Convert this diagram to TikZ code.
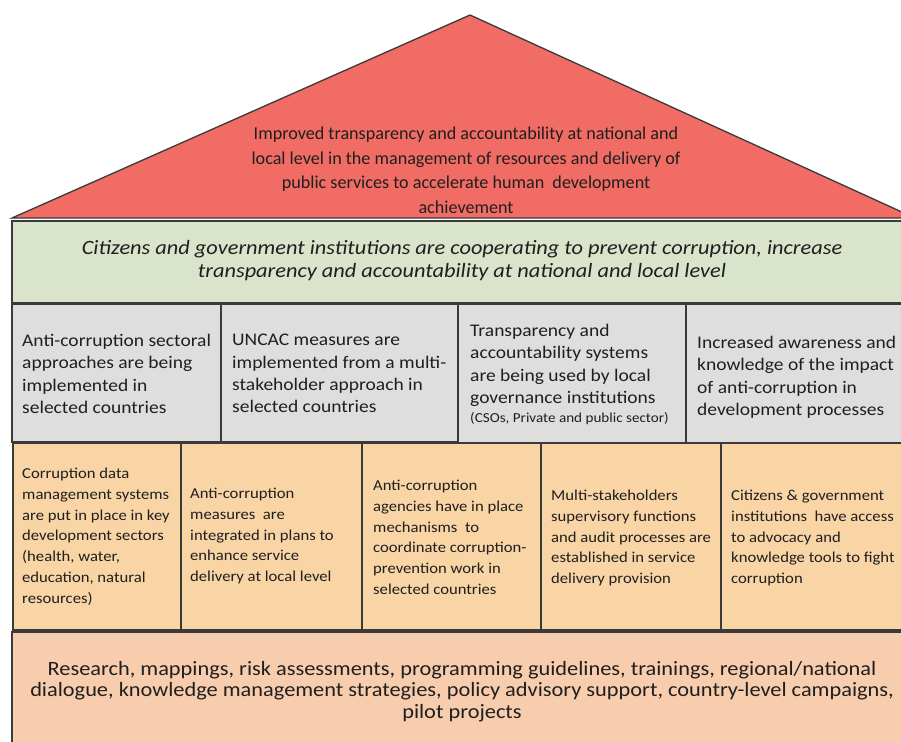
\documentclass[tikz,border=0pt]{standalone}
\usepackage{fontspec}
\setmainfont{Carlito}
\newfontfamily\widefont{Carlito}[FakeStretch=1.1]
\usetikzlibrary{positioning}

\definecolor{roofred}{HTML}{F06C64}
\definecolor{leafgreen}{HTML}{D9E4CA}
\definecolor{wallgray}{HTML}{DEDEDE}
\definecolor{brickorange}{HTML}{F9D5A6}
\definecolor{basepeach}{HTML}{F8CDAE}
\definecolor{linegray}{HTML}{3A3A3A}

\begin{document}
\begin{tikzpicture}[x=1bp,y=-1bp,
    frame/.style={draw=linegray, line width=1.3bp},
    txt/.style={inner sep=0pt, anchor=north west, align=left, text=black!88}]

        \useasboundingbox (0,0) rectangle (901,742);

        % roof
        \coordinate (eaveL) at (12,218);
        \coordinate (apex) at (470,15);
        \coordinate (eaveR) at (915,218);
        % bands
        \coordinate (G1) at (12,221);
        \coordinate (G2) at (912,303);
        \coordinate (B1) at (12,632);
        \coordinate (B2) at (912,750);

        \draw[frame, fill=roofred] (eaveL) -- (apex) -- (eaveR) -- cycle;
        \draw[frame, fill=leafgreen] (G1) rectangle (G2);

        % outputs (gray row)
        \draw[frame, fill=wallgray] (12,304) rectangle (221,442);
        \draw[frame, fill=wallgray] (221,304) rectangle (458,442);
        \draw[frame, fill=wallgray] (458,304) rectangle (686,444);
        \draw[frame, fill=wallgray] (686,304) rectangle (912,444);

        % activities (orange row)
        \draw[frame, fill=brickorange] (13,443) rectangle (181,630);
        \draw[frame, fill=brickorange] (181,443) rectangle (362,630);
        \draw[frame, fill=brickorange] (362,443) rectangle (541,630);
        \draw[frame, fill=brickorange] (541,443) rectangle (721,630);
        \draw[frame, fill=brickorange] (721,443) rectangle (912,630);

        \draw[frame, fill=basepeach] (B1) rectangle (B2);

        \node[txt, anchor=north, align=center, font=\fontsize{18.2}{24.5}\selectfont] (goal) at (466,127)
        {Improved transparency and accountability at national and\\
        local level in the management of resources and delivery of\\
        public services to accelerate human\ \ development\\
        achievement};

        \node[txt, anchor=north, align=center, font=\widefont\fontsize{20.4}{23.5}\selectfont\itshape] (outcome) at (462,240)
        {Citizens and government institutions are cooperating to prevent corruption, increase\\
        transparency and accountability at national and local level};

        \node[txt, font=\widefont\fontsize{17.8}{22.5}\selectfont] (out1) at (22,334)
        {Anti-corruption sectoral\\ approaches are being\\ implemented in\\ selected countries};
        \node[txt, font=\widefont\fontsize{17.8}{22.5}\selectfont] (out2) at (232,334)
        {UNCAC measures are\\ implemented from a multi-\\ stakeholder approach in\\ selected countries};
        \node[txt, font=\widefont\fontsize{17.8}{22.5}\selectfont] (out3) at (470,324)
        {Transparency and\\ accountability systems\\ are being used by local\\ governance institutions};
        \node[txt, font=\widefont\fontsize{13.8}{15}\selectfont] (out3note) at (470,412)
        {(CSOs, Private and public sector)};
        \node[txt, font=\widefont\fontsize{17.8}{22.5}\selectfont] (out4) at (697,336)
        {Increased awareness and\\ knowledge of the impact\\ of anti-corruption in\\ development processes};

        \node[txt, font=\widefont\fontsize{15.2}{20.8}\selectfont] (act1) at (22,468)
        {Corruption data\\ management systems\\ are put in place in key\\ development sectors\\ (health, water,\\ education, natural\\ resources)};
        \node[txt, font=\widefont\fontsize{15.2}{20.8}\selectfont] (act2) at (190,488)
        {Anti-corruption\\ measures\ \ are\\ integrated in plans to\\ enhance service\\ delivery at local level};
        \node[txt, font=\widefont\fontsize{15.2}{20.8}\selectfont] (act3) at (373,480)
        {Anti-corruption\\ agencies have in place\\ mechanisms\ \ to\\ coordinate corruption-\\ prevention work in\\ selected countries};
        \node[txt, font=\widefont\fontsize{15.2}{20.8}\selectfont] (act4) at (551,490)
        {Multi-stakeholders\\ supervisory functions\\ and audit processes are\\ established in service\\ delivery provision};
        \node[txt, font=\widefont\fontsize{15.2}{20.8}\selectfont] (act5) at (731,490)
        {Citizens \& government\\ institutions\ \ have access\\ to advocacy and\\ knowledge tools to fight\\ corruption};

        \node[txt, anchor=north, align=center, font=\widefont\fontsize{20.4}{21.5}\selectfont] (inputs) at (462,661)
        {Research, mappings, risk assessments, programming guidelines, trainings, regional/national\\
        dialogue, knowledge management strategies, policy advisory support, country-level campaigns,\\
        pilot projects};

    \end{tikzpicture}
\end{document}
